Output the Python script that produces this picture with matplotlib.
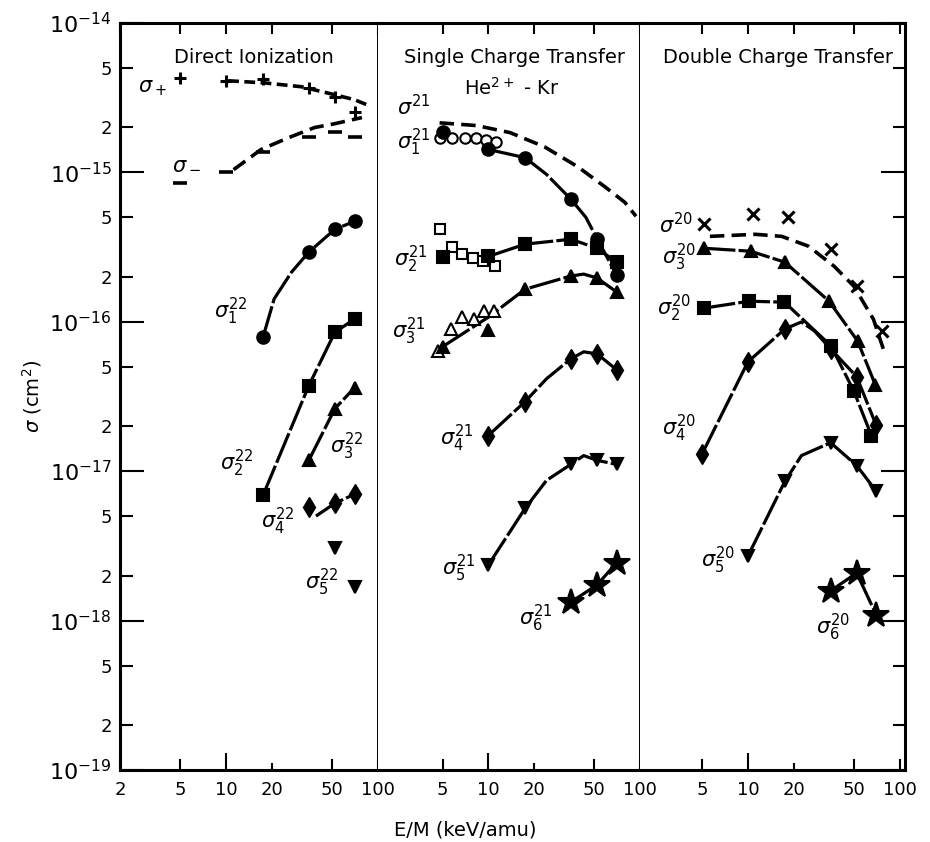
import matplotlib
matplotlib.use("Agg")
import matplotlib.pyplot as plt

# ---------------- Direct Ionization ----------------
E_dir = [5, 10, 17.5, 35, 52, 70]
sigPlus = [4.27e-15, 4.08e-15, 4.2e-15, 3.67e-15, 3.2e-15, 2.54e-15]
sigMinus = [8.5e-16, 1.0e-15, 1.37e-15, 1.73e-15, 1.85e-15, 1.73e-15]
plusCurveE = [10.3, 17.8, 31.3, 51.8, 70.3, 87]
plusCurve = [4.09e-15, 3.96e-15, 3.73e-15, 3.30e-15, 3.05e-15, 2.79e-15]
minusCurveE = [11.2, 17.0, 25.7, 38.2, 51.8, 78.3]
minusCurve = [1.04e-15, 1.42e-15, 1.70e-15, 1.99e-15, 2.11e-15, 2.32e-15]

E_22 = [17.5, 35, 52, 70]
sig1_22 = [7.9e-17, 2.92e-16, 4.15e-16, 4.69e-16]
sig1_22_curveE = [17.5, 20.7, 26.9, 35, 52, 70]
sig1_22_curve = [7.9e-17, 1.42e-16, 2.14e-16, 2.92e-16, 4.15e-16, 4.69e-16]
sig2_22 = [6.9e-18, 3.73e-17, 8.5e-17, 1.04e-16]
E_22b = [35, 52, 70]
sig3_22 = [1.18e-17, 2.62e-17, 3.61e-17]
sig4_22 = [5.73e-18, 6.09e-18, 7.0e-18]
sig4_22_curveE = [39, 52, 70]
sig4_22_curve = [5.0e-18, 6.09e-18, 7.0e-18]
E_22c = [52, 70]
sig5_22 = [3.05e-18, 1.68e-18]

# ---------------- Single Charge Transfer ----------------
E_sct = [5, 10, 17.5, 35, 52, 70]
sig21CurveE = [4.78, 8.41, 13.9, 23.4, 38.7, 58.5, 79.4, 94]
sig21Curve = [2.14e-15, 2.05e-15, 1.84e-15, 1.48e-15, 1.09e-15, 8.0e-16, 6.28e-16, 5.07e-16]
sig1_21 = [1.87e-15, 1.42e-15, 1.25e-15, 6.6e-16, 3.6e-16, 2.05e-16]
sig1_21_curveE = [10, 17.5, 24.2, 35, 43.9, 52, 70]
sig1_21_curve = [1.42e-15, 1.25e-15, 9.66e-16, 6.6e-16, 4.99e-16, 3.6e-16, 2.05e-16]
sig1_21_openE = [4.8, 5.8, 7.0, 8.3, 9.7, 11.2]
sig1_21_open = [1.70e-15, 1.70e-15, 1.70e-15, 1.70e-15, 1.65e-15, 1.60e-15]
sig2_21 = [2.70e-16, 2.73e-16, 3.30e-16, 3.56e-16, 3.10e-16, 2.50e-16]
sig2_21_openE = [4.78, 5.75, 6.7, 7.9, 9.2, 11.1]
sig2_21_open = [4.15e-16, 3.15e-16, 2.83e-16, 2.66e-16, 2.54e-16, 2.35e-16]
sig3_21 = [6.8e-17, 8.8e-17, 1.65e-16, 2.02e-16, 1.96e-16, 1.58e-16]
sig3_21_curveE = [5, 10, 17.5, 35, 42.5, 52, 70]
sig3_21_curve = [6.8e-17, 1.07e-16, 1.65e-16, 2.02e-16, 2.08e-16, 1.96e-16, 1.58e-16]
sig3_21_openE = [4.64, 5.66, 6.7, 8.0, 9.4, 10.9]
sig3_21_open = [6.38e-17, 8.93e-17, 1.07e-16, 1.04e-16, 1.18e-16, 1.18e-16]
E_sct4 = [10, 17.5, 35, 52, 70]
sig4_21 = [1.73e-17, 2.92e-17, 5.64e-17, 6.09e-17, 4.77e-17]
curveE_sct = [10, 17.5, 24.2, 35, 42.5, 52, 70]
sig4_21_curve = [1.73e-17, 2.92e-17, 4.15e-17, 5.64e-17, 6.28e-17, 6.09e-17, 4.77e-17]
sig5_21 = [2.35e-18, 5.64e-18, 1.11e-17, 1.18e-17, 1.11e-17]
sig5_21_curve = [2.35e-18, 5.64e-18, 8.67e-18, 1.11e-17, 1.27e-17, 1.18e-17, 1.11e-17]
E_sct6 = [35, 52, 70]
sig6_21 = [1.33e-18, 1.73e-18, 2.43e-18]

# ---------------- Double Charge Transfer ----------------
sig20E = [5.1, 10.8, 18.3, 35.3, 52, 76]
sig20 = [4.48e-16, 5.22e-16, 4.99e-16, 3.05e-16, 1.73e-16, 8.67e-17]
sig20CurveE = [5.62, 11.2, 16.7, 25, 36.9, 49.7, 67, 77.8]
sig20Curve = [3.72e-16, 3.84e-16, 3.72e-16, 3.2e-16, 2.35e-16, 1.73e-16, 1.04e-16, 6.58e-17]
sig3_20E = [5.1, 10.4, 17.5, 34.2, 52.7, 69]
sig3_20 = [3.1e-16, 2.96e-16, 2.5e-16, 1.37e-16, 7.43e-17, 3.78e-17]
E_dct = [5.1, 10.2, 17.4, 35.2, 49.7, 65]
sig2_20 = [1.23e-16, 1.37e-16, 1.35e-16, 6.89e-17, 3.45e-17, 1.73e-17]
sig4_20E = [5, 10, 17.5, 35, 52, 70]
sig4_20 = [1.31e-17, 5.38e-17, 8.93e-17, 6.58e-17, 4.28e-17, 2.02e-17]
sig4_20_curveE = [5, 10, 17.5, 22.5, 27.4, 35, 52, 70]
sig4_20_curve = [1.31e-17, 5.38e-17, 8.93e-17, 9.95e-17, 8.67e-17, 6.58e-17, 4.28e-17, 2.02e-17]
sig5_20E = [10, 17.5, 35, 52, 70]
sig5_20 = [2.7e-18, 8.53e-18, 1.55e-17, 1.09e-17, 7.33e-18]
sig5_20_curveE = [10, 17.5, 22.5, 35, 52, 70]
sig5_20_curve = [2.7e-18, 8.53e-18, 1.27e-17, 1.55e-17, 1.09e-17, 7.33e-18]
E_dct6 = [35, 52, 70]
sig6_20 = [1.58e-18, 2.08e-18, 1.09e-18]

panelTitles = ["Direct Ionization", "Single Charge Transfer", "Double Charge Transfer"]
xLimits = [(2, 100), (1.88, 100), (1.95, 108)]
yMajor = [1e-19, 1e-18, 1e-17, 1e-16, 1e-15, 1e-14]
yMajorLabels = [r"$10^{-19}$", r"$10^{-18}$", r"$10^{-17}$", r"$10^{-16}$", r"$10^{-15}$", r"$10^{-14}$"]
yMinor = [2e-19, 5e-19, 2e-18, 5e-18, 2e-17, 5e-17, 2e-16, 5e-16, 2e-15, 5e-15]
yMinorLabels = ["2", "5"] * 5

SOLID = (0, (10, 1.0))
DASH = (0, (4, 2))
SHORTDASH = (0, (3, 1.5))


def curve(ax, x, y, style=SOLID, lw=2.3):
    ax.plot(x, y, color="black", lw=lw, linestyle=style, solid_capstyle="butt",
            dash_capstyle="butt", zorder=2)


def points(ax, x, y, marker, ms=8, open_=False, mew=1.5):
    if open_:
        ax.plot(x, y, linestyle="none", marker=marker, ms=ms, mfc="white",
                mec="black", mew=mew, zorder=3)
    else:
        ax.plot(x, y, linestyle="none", marker=marker, ms=ms, color="black",
                mew=mew, zorder=3)


def label(ax, x, y, txt, size=15):
    ax.text(x, y, txt, fontsize=size, ha="center", va="center")


fig, axes = plt.subplots(1, 3, figsize=(9.3, 8.42), dpi=100,
                         gridspec_kw={"width_ratios": [1.699, 1.725, 1.743], "wspace": 0})
fig.subplots_adjust(left=0.129, right=0.973, top=0.973, bottom=0.0855)

for i, ax in enumerate(axes):
    ax.set_xscale("log")
    ax.set_yscale("log")
    ax.set_xlim(*xLimits[i])
    ax.set_ylim(1e-19, 1e-14)
    ax.set_yticks(yMajor, labels=yMajorLabels)
    ax.set_yticks(yMinor, labels=yMinorLabels, minor=True)
    if i == 0:
        xt = [2, 5, 10, 20, 50, 100]
    else:
        xt = [5, 10, 20, 50, 100]
    ax.set_xticks(xt, labels=[str(v) for v in xt])
    ax.xaxis.set_minor_locator(plt.NullLocator())
    ax.tick_params(axis="x", which="major", direction="in", top=True, bottom=True,
                   length=8, width=1.5, labelsize=13, pad=8)
    # the 10 tick on the bottom edge is drawn longer, the 20 tick shorter
    for v, t in zip(xt, ax.xaxis.get_major_ticks()):
        if v == 10:
            t.tick1line.set_markersize(12)
        elif v == 20:
            t.tick1line.set_markersize(5)
    ax.tick_params(axis="y", which="major", direction="in", length=17, width=1.5,
                   labelsize=16, pad=6)
    ax.tick_params(axis="y", which="minor", direction="in", length=9, width=1.5,
                   labelsize=13, pad=6)
    if i == 0:
        ax.tick_params(axis="y", which="both", left=True, right=False, labelleft=True)
    elif i == 1:
        ax.tick_params(axis="y", which="both", left=False, right=False, labelleft=False)
    else:
        ax.tick_params(axis="y", which="both", left=False, right=True, labelleft=False)
    for side in ["top", "bottom", "left", "right"]:
        ax.spines[side].set_linewidth(2.2)
    ax.spines["right"].set_linewidth(1.4)
    if i > 0:
        ax.spines["left"].set_visible(False)
    ax.text(0.52, 0.953, panelTitles[i], transform=ax.transAxes, fontsize=14,
            ha="center", va="center")
axes[2].spines["right"].set_linewidth(2.2)

# Direct Ionization
ax = axes[0]
curve(ax, plusCurveE, plusCurve, SHORTDASH, lw=2.6)
curve(ax, minusCurveE, minusCurve, DASH, lw=2.6)
points(ax, E_dir, sigPlus, "+", ms=9, mew=2.2)
points(ax, E_dir, sigMinus, "_", ms=10, mew=2.6)
curve(ax, sig1_22_curveE, sig1_22_curve)
points(ax, E_22, sig1_22, "o", ms=9)
curve(ax, E_22, sig2_22)
points(ax, E_22, sig2_22, "s", ms=8.5)
curve(ax, E_22b, sig3_22)
points(ax, E_22b, sig3_22, "^", ms=9)
curve(ax, sig4_22_curveE, sig4_22_curve)
points(ax, E_22b, sig4_22, "d", ms=10, mew=1)
points(ax, E_22c, sig5_22, "v", ms=9)
label(ax, 3.26, 3.67e-15, r"$\sigma_+$")
label(ax, 5.48, 1.16e-15, r"$\sigma_-$")
label(ax, 10.7, 1.18e-16, r"$\sigma_1^{22}$")
label(ax, 11.8, 1.12e-17, r"$\sigma_2^{22}$")
label(ax, 62.2, 1.46e-17, r"$\sigma_3^{22}$")
label(ax, 22.0, 4.62e-18, r"$\sigma_4^{22}$")
label(ax, 42.5, 1.81e-18, r"$\sigma_5^{22}$")

# Single Charge Transfer
ax = axes[1]
ax.text(0.508, 0.913, r"He$^{2+}$ - Kr", transform=ax.transAxes, fontsize=14,
        ha="center", va="center")
curve(ax, sig21CurveE, sig21Curve, DASH, lw=2.6)
curve(ax, sig1_21_curveE, sig1_21_curve)
points(ax, sig1_21_openE, sig1_21_open, "o", ms=7.5, open_=True)
points(ax, E_sct, sig1_21, "o", ms=9)
curve(ax, E_sct[1:], sig2_21[1:])
points(ax, sig2_21_openE, sig2_21_open, "s", ms=7.5, open_=True)
points(ax, E_sct, sig2_21, "s", ms=8.5)
curve(ax, sig3_21_curveE, sig3_21_curve)
points(ax, sig3_21_openE, sig3_21_open, "^", ms=8, open_=True)
points(ax, E_sct, sig3_21, "^", ms=9)
curve(ax, curveE_sct, sig4_21_curve)
points(ax, E_sct4, sig4_21, "d", ms=10, mew=1)
curve(ax, curveE_sct, sig5_21_curve)
points(ax, E_sct4, sig5_21, "v", ms=9)
curve(ax, E_sct6, sig6_21)
points(ax, E_sct6, sig6_21, "*", ms=19)
label(ax, 3.21, 2.74e-15, r"$\sigma^{21}$")
label(ax, 3.21, 1.58e-15, r"$\sigma_1^{21}$")
label(ax, 3.07, 2.62e-16, r"$\sigma_2^{21}$")
label(ax, 2.98, 8.63e-17, r"$\sigma_3^{21}$")
label(ax, 6.2, 1.65e-17, r"$\sigma_4^{21}$")
label(ax, 6.4, 2.25e-18, r"$\sigma_5^{21}$")
label(ax, 20.4, 1.04e-18, r"$\sigma_6^{21}$")

# Double Charge Transfer
ax = axes[2]
curve(ax, sig20CurveE, sig20Curve, DASH, lw=2.6)
points(ax, sig20E, sig20, "x", ms=8, mew=2.2)
curve(ax, sig3_20E, sig3_20)
points(ax, sig3_20E, sig3_20, "^", ms=9)
curve(ax, E_dct, sig2_20)
points(ax, E_dct, sig2_20, "s", ms=8.5)
curve(ax, sig4_20_curveE, sig4_20_curve)
points(ax, sig4_20E, sig4_20, "d", ms=10, mew=1)
curve(ax, sig5_20_curveE, sig5_20_curve)
points(ax, sig5_20E, sig5_20, "v", ms=9)
curve(ax, E_dct6, sig6_20)
points(ax, E_dct6, sig6_20, "*", ms=19)
label(ax, 3.34, 4.48e-16, r"$\sigma^{20}$")
label(ax, 3.49, 2.7e-16, r"$\sigma_3^{20}$")
label(ax, 3.24, 1.22e-16, r"$\sigma_2^{20}$")
label(ax, 3.49, 1.93e-17, r"$\sigma_4^{20}$")
label(ax, 6.34, 2.54e-18, r"$\sigma_5^{20}$")
label(ax, 36.3, 8.93e-19, r"$\sigma_6^{20}$")

axes[0].set_ylabel(r"$\sigma$ (cm$^2$)", fontsize=14, labelpad=4)
fig.text(0.5, 1 - 830 / 842, "E/M (keV/amu)", fontsize=14, ha="center", va="center")

fig.savefig("out.png", dpi=100)
